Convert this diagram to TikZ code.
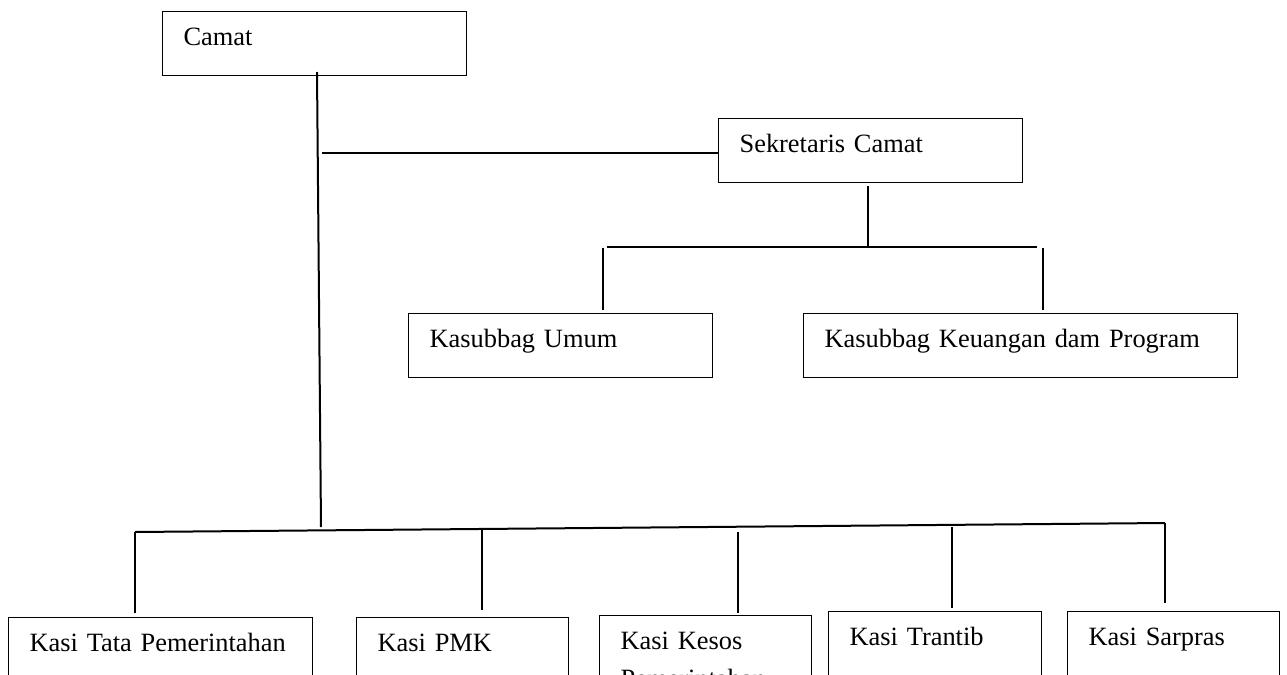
\documentclass[tikz,border=0pt]{standalone}
\usepackage{fontspec}
\setmainfont{Liberation Serif}
\usetikzlibrary{calc}
\newcommand{\OrgFontSize}{\fontsize{13.2}{15}\selectfont}
\newcommand{\OrgBox}[4]{
  \node[orgbox, text width=#3] (#1) at #2 {#4};
}
\newcommand{\OrgDrop}[5]{
  \coordinate (#1top) at (#2,#3);
  \draw[orgline, shorten >=#5] (#1top) -- (#1top |- #4.north);
}
\tikzset{
  orgbox/.style={draw, line width=0.6pt, anchor=north west, align=left,
    inner xsep=10.5pt, inner ysep=0pt, text height=17pt, text depth=15pt,
    font=\OrgFontSize},
  orgline/.style={line width=1pt}
}

\begin{document}
\begin{tikzpicture}[x=0.5pt,y=-0.5pt]
\path[use as bounding box] (0,0) rectangle (1287,675);
\clip (0,0) rectangle (1287,675);

\OrgBox{camat}{(162,11)}{131pt}{Camat}
\OrgBox{sekcam}{(718,118)}{131pt}{Sekretaris Camat}
\OrgBox{umum}{(408,313)}{131pt}{Kasubbag Umum}
\OrgBox{keuangan}{(803,313)}{196pt}{Kasubbag Keuangan dam Program}

\OrgBox{tata}{(8,617)}{131pt}{Kasi Tata Pemerintahan}
\OrgBox{pmk}{(356,617)}{85pt}{Kasi PMK}
\OrgBox{kesos}{(599,615)}{85pt}{Kasi Kesos\\[4pt]Pemerintahan}
\OrgBox{trantib}{(828,611)}{85.5pt}{Kasi Trantib}
\OrgBox{sarpras}{(1067,611)}{85pt}{Kasi Sarpras}

\coordinate (camatstem) at (317,72);
\coordinate (stemfoot) at (321,527);
\draw[orgline] (camatstem) -- (stemfoot);

\coordinate (sekjoin) at (322,153);
\draw[orgline] (sekjoin) -- (sekjoin -| sekcam.west);

\coordinate (sekstem) at (868,186);
\coordinate (sekfoot) at (868,247);
\draw[orgline] (sekstem) -- (sekfoot);
\coordinate (subL) at (607,247);
\coordinate (subR) at (1037,247);
\draw[orgline] (subL) -- (subR);
\OrgDrop{umumdrop}{603}{248}{umum}{1.5pt}
\OrgDrop{keudrop}{1043}{248}{keuangan}{1.5pt}

\coordinate (busL) at (135,532);
\coordinate (busR) at (1165,523);
\draw[orgline] (busL) -- (busR);
\OrgDrop{tatadrop}{135}{532}{tata}{2pt}
\OrgDrop{pmkdrop}{482}{530}{pmk}{3.5pt}
\OrgDrop{kesosdrop}{738}{532}{kesos}{1pt}
\OrgDrop{trantibdrop}{952}{527}{trantib}{1.5pt}
\OrgDrop{sarprasdrop}{1165}{523}{sarpras}{4pt}

\end{tikzpicture}
\end{document}
